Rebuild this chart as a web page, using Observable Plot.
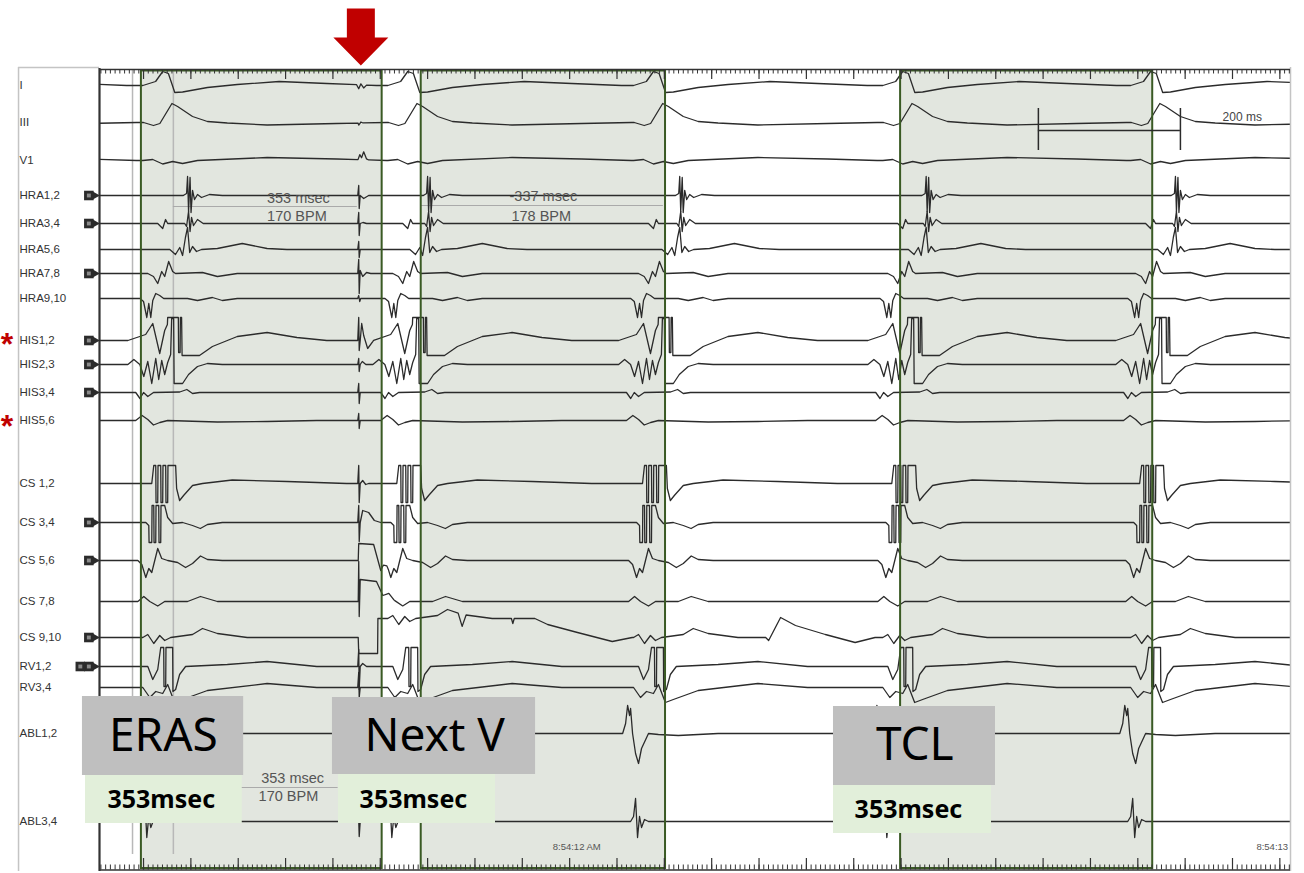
<!DOCTYPE html>
<html><head><meta charset="utf-8">
<script src="https://cdn.jsdelivr.net/npm/d3@7"></script>
<script src="https://cdn.jsdelivr.net/npm/@observablehq/plot@0.6"></script>
<style>html,body{margin:0;padding:0;background:#fff;overflow:hidden}</style>
</head><body><div id="chart"></div>
<script>
// ---------- data ----------
const channels = ["I","III","V1","HRA1,2","HRA3,4","HRA5,6","HRA7,8","HRA9,10","HIS1,2","HIS2,3","HIS3,4","HIS5,6","CS 1,2","CS 3,4","CS 5,6","CS 7,8","CS 9,10","RV1,2","RV3,4","ABL1,2","ABL3,4"];
// display offset of each channel baseline (mm from top of the page)
const offsets = [8.5,12.2,16.0,19.5,22.3,24.9,27.3,29.8,34.0,36.4,39.2,42.0,48.3,52.2,56.0,60.1,63.7,66.6,68.7,73.3,82.1];
const connectors = [0,0,0,1,1,0,1,0,1,1,1,0,0,1,1,0,1,2,0,0,0];

// event times (ms)
const vTimes = [-256, 96, 441, 787, 1138, 1487];
const aTimes = [-228, 124, 462, 817, 1164, 1515];
const stimTime = 365;
const cs910Extra = [938];

// electrogram templates: [ms from event, deflection in mm (up +)]
const vTemplates = [
  [[-35,0],[-17,0.4],[-7,1.4],[1,1.2],[10,-0.7],[21,-0.65],[56,-0.2],[98,0.1],[157,0.4],[224,0.2],[294,0]],
  [[-34,0],[-20,-0.3],[-11,-0.1],[6,1.9],[14,1.6],[35,0.6],[56,0.1],[84,-0.05],[140,-0.25],[238,-0.1],[308,0]],
  [[-35,0],[-21,0.1],[-7,-0.35],[7,-0.1],[21,-0.3],[42,0],[140,0.3],[238,0.15],[308,0]],
  null,
  [[-14,0],[-7,-0.5],[-3,0.4],[0,0]],
  null,
  [[-28,0],[-20,-0.3],[-14,-1.0],[-8.4,0.2],[-4.2,-0.3],[1.4,1.2],[7,0.2],[11,0],[49,0.1],[70,-0.3],[98,0]],
  [[-39,0],[-34,-0.3],[-29.4,-1.9],[-26.6,-0.5],[-23.8,-1.9],[-21,-0.2],[-16.8,0.5],[-11.2,0.3],[-5.6,0],[28,0],[42,-0.2],[63,0.1],[77,-0.2],[98,0]],
  [[-56,0],[-31,0.6],[-21,1.7],[-11.2,-1.3],[-4.2,1.0],[-0.4,1.6],[0,2.3],[15,2.3],[15.4,-1.2],[17.5,-1.2],[17.9,2.3],[19.6,2.3],[20.3,-1.5],[44.8,-1.5],[63,-0.6],[98,0.4],[140,0.8],[182,0.3],[224,0]],
  [[-56,0],[-47.6,0.5],[-39.2,0],[-33.6,-1.2],[-28,0.3],[-22.4,-1.9],[-16.8,0.6],[-12.6,-1.5],[-8.4,0.4],[-4.2,-1.0],[0,0.2],[4.2,1.0],[5.6,4.6],[8.4,4.6],[9.1,-1.9],[21,-1.9],[29.4,-1.0],[42,-0.2],[56,0.1],[77,0]],
  [[-45,0],[-39,-0.6],[-34,0],[-28,-0.4],[-20,0],[17,0.05],[27,0.3],[35,-0.1],[45,0]],
  [[-45,0],[-36,0.5],[-28,0.1],[-20,-0.45],[-11,-0.2],[0,0],[70,-0.15],[140,-0.1],[210,0]],
  [[-22.4,0],[-19.6,1.8],[-16.8,1.8],[-16.4,-1.9],[-14,-1.9],[-13.6,1.8],[-9.8,1.8],[-9.4,-1.9],[-7,-1.9],[-6.6,1.8],[-2.8,1.8],[-2.4,-1.9],[0,-1.9],[0.4,1.8],[11.2,1.8],[12.6,-0.5],[16.8,-1.7],[22.4,-1.2],[35,-0.2],[49,0],[91,0.35],[168,0.2],[252,0]],
  [[-30.8,0],[-26.6,-0.3],[-26.2,-2.0],[-22.4,-2.0],[-22,1.7],[-19.6,1.7],[-19.2,-2.0],[-16.8,-2.0],[-16.4,1.7],[-12.6,1.7],[-12.2,-2.0],[-9.8,-2.0],[-9.4,1.7],[-4.2,1.7],[0,0.5],[7,-0.1],[21,0],[35,-0.3],[46,-0.6],[56,-0.2],[77,0]],
  [[-42,0],[-36.4,-0.4],[-30.8,-1.7],[-26.6,-0.8],[-22.4,-1.2],[-14,1.2],[-8.4,0.2],[0,0],[14,-0.2],[25.2,-0.7],[35,-0.3],[46.2,0.45],[56,0.1],[77,0]],
  [[-42,0],[-33.6,0.5],[-25.2,0],[-14,-0.45],[-4.2,0],[28,0],[46.2,0.5],[70,0]],
  [[-35,0],[-28,0.3],[-19.6,-0.6],[-11.2,0.2],[-4.2,-0.3],[4.2,0],[35,0.3],[49,0.9],[70,0.4],[112,0]],
  [[-28,0],[-21,-1.3],[-14,-0.3],[-9.8,1.9],[-5.6,1.9],[-5.2,-2.0],[-2.8,-2.0],[-2.4,1.9],[7,1.9],[7.4,-2.5],[11.2,-2.3],[16.8,-0.8],[25.2,0],[84,0.2],[140,0.5],[210,0]],
  [[-35,0],[-25.2,-1.0],[-16.8,-0.4],[-7,-0.6],[0,0.3],[9.8,-1.5],[21,-1.2],[56,-0.3],[140,0.4],[210,0]],
  [[-50.4,0],[-46.2,1.0],[-43.4,2.8],[-40.6,1.8],[-39.2,2.5],[-36.4,0],[-32.2,-2.0],[-28,-3.0],[-23.8,-1.5],[-14,0],[0,-0.1],[28,-0.2],[84,0]],
  [[-39.2,0],[-35,0.5],[-32.2,2.3],[-29.4,-1.6],[-26.6,0.5],[-23.8,-0.6],[-19.6,0.2],[-14,0]]
];
const aTemplates = [
  null,null,null,
  [[-6,0],[-1.4,0.2],[0,1.9],[1.4,-1.6],[3.5,1.8],[4.9,-1.7],[7,0.5],[9.8,-0.4],[14,0.1],[19.6,-0.2],[30.8,0.1],[49,0]],
  [[-4,0],[-1.4,-0.3],[1.4,1.2],[3.5,-0.8],[5.6,0.6],[8.4,-0.2],[14,0.4],[22,0],[35,0]],
  [[-25,0],[-17,-0.5],[-11,0.2],[-7,-0.6],[-3,1.2],[0,2.2],[3,-0.3],[7,0.3],[12.6,-0.2],[19.6,0],[42,0.1],[77,0.6],[112,0.1],[140,0]],
  null,null,null,null,null,null,null,null,null,null,null,null,null,null,null
];
const sTemplates = [
  [[-3,0],[0,-0.4],[3,0.1],[7,-0.3],[11,0]],
  [[-1,0],[0,-0.2],[3,0.1],[6,0]],
  [[-1,0],[1.5,0.5],[4,0.2],[7,0.8],[11,0.1],[14,0]],
  [[-1.4,0],[0,1.0],[0.7,-1.3],[2.1,0],[7,-0.3],[14,0]],
  [[-1.4,0],[0,1.1],[0.7,-1.2],[2.1,0],[6,0.1],[11,0]],
  [[-1.4,0],[0,0.8],[0.7,-0.8],[2.1,0],[6,0]],
  [[-1.4,0],[0,1.4],[0.7,-2.0],[2.1,0.3],[5.6,-0.3],[11,0.1],[17,0]],
  [[-1.4,0],[0,0.3],[1.4,-0.3],[2.8,0]],
  [[-1.4,0],[0,2.3],[0.7,-1.0],[2.1,0],[4.2,1.7],[7,0.5],[12.6,-0.8],[21,0]],
  [[-1.4,0],[0,0.6],[0.7,-0.7],[2.1,0],[5,0.3],[10,0]],
  [[-1.4,0],[0,0.9],[0.7,-1.1],[2.1,0],[4,0]],
  [[-1.4,0],[0,0.7],[0.7,-0.8],[2.1,0],[4,0]],
  [[-1.4,0],[0,1.8],[0.7,-1.9],[2.1,0],[5.6,0.3],[9.8,-0.1],[14,0]],
  [[-1.4,0],[0,1.7],[0.7,-1.9],[2.1,0],[5.6,1.2],[14,1.0],[22,0.2],[31,0]],
  [[-0.7,0],[0,1.7],[21,1.6],[31,-1.0],[35,-0.4],[42,0]],
  [[-0.7,0],[0,4.0],[0.7,-1.5],[2.1,2.2],[25,2.0],[34,0.6],[49,0.1],[63,0]],
  [[-0.7,0],[0,-1.6],[26.6,-1.6],[27,1.9],[140,1.9],[145.6,0.7],[151.2,1.9],[215,1.9],[217,1.4],[219,1.9],[248,1.9],[266,1.3],[308,0.5],[357,-0.4],[385,0]],
  [[-1.4,0],[0,1.7],[0.7,-2.3],[2.1,0],[5.6,0.3],[11,0]],
  [[-1.4,0],[0,1.5],[0.7,-1.0],[2.1,0],[4.2,0]],
  null,
  [[-1.4,0],[0,0.2],[0.7,-1.5],[2.1,0],[4,0]]
];
const cs910ExtraTemplate = [[0,0],[4.2,-0.3],[21,2.0],[42,1.2],[84,0.3],[126,-0.5],[154,0]];

// highlighted intervals (ms)
const windowStarts = [59, 453, 1128];
const windowEnds = [398, 797, 1483];
const cursorTimes = [46.5, 104];

// annotations
const measureTexts = ["353 msec", "170 BPM", "-337 msec", "178 BPM", "353 msec", "170 BPM"];
const calloutNames = ["ERAS", "Next V", "TCL"];
const calloutValues = ["353msec", "353msec", "353msec"];
const timeStamps = ["8:54:12 AM", "8:54:13"];
const scaleLabel = "200 ms";

// ---------- build ----------
const tMax = 1677;
function interp(tpl, dt) {
  if (!tpl || dt <= tpl[0][0] || dt >= tpl[tpl.length - 1][0]) return 0;
  for (let k = 1; k < tpl.length; k++) {
    if (dt <= tpl[k][0]) {
      const [t0, a0] = tpl[k - 1], [t1, a1] = tpl[k];
      return a0 + (a1 - a0) * (dt - t0) / (t1 - t0);
    }
  }
  return 0;
}
function eventsFor(i) {
  const ev = [];
  if (vTemplates[i]) vTimes.forEach(t => ev.push([t, vTemplates[i]]));
  if (aTemplates[i]) aTimes.forEach(t => ev.push([t, aTemplates[i]]));
  if (sTemplates[i]) ev.push([stimTime, sTemplates[i]]);
  if (channels[i] === "CS 9,10") cs910Extra.forEach(t => ev.push([t, cs910ExtraTemplate]));
  return ev;
}
function buildTrace(i) {
  const ev = eventsFor(i);
  const ts = new Set([0, tMax]);
  ev.forEach(([t0, tpl]) => tpl.forEach(([dt]) => {
    const t = t0 + dt;
    if (t > 0 && t < tMax) ts.add(Math.round(t * 100) / 100);
  }));
  return [...ts].sort((a, b) => a - b).map(t => ({
    ch: channels[i], t, y: offsets[i] - d3.sum(ev, ([t0, tpl]) => interp(tpl, t - t0))
  }));
}
const traceData = channels.flatMap((c, i) => buildTrace(i));

const windows = windowStarts.map((s, i) => ({x1: s, x2: windowEnds[i]}));
const rulerStep = 200 / 3;
const majors = d3.range(62, tMax, rulerStep);
const minors = d3.range(62 - rulerStep, tMax, rulerStep / 10).filter(t => t >= 0);
const iconRows = channels.map((c, i) => ({y: offsets[i], n: connectors[i]})).filter(d => d.n > 0);
const labelRows = channels.map((c, i) => ({name: c, y: offsets[i]}));

const ac = stimTime + 3;
const arrow = [[ac-19.7,0.8],[ac+19.7,0.8],[ac+19.7,3.7],[ac+38.7,3.7],[ac,6.5],[ac-38.7,3.7],[ac-19.7,3.7],[ac-19.7,0.8]];

const gray = "#c4c4c4";
const ink = "#2b2b2b";

const callBoxes = [
  {gx1:-24, gx2:203, gy1:69.6, gy2:77.5, vx1:-19.7, vx2:201, vy1:77.2, vy2:82.3, tx:90, ty:73.6, vx:87, vy:79.9},
  {gx1:328, gx2:614, gy1:69.7, gy2:77.4, vx1:336.5, vx2:557.6, vy1:77.2, vy2:82.3, tx:472, ty:73.6, vx:442, vy:79.9},
  {gx1:1033.5, gx2:1261.6, gy1:70.6, gy2:78.5, vx1:1033.5, vx2:1256, vy1:78.1, vy2:83.3, tx:1148, ty:74.5, vx:1139, vy:80.9}
].map((b, i) => ({...b, name: calloutNames[i], value: calloutValues[i]}));

const measPos = [
  {x: 280, y: 19.8, a: "middle"}, {x: 278, y: 21.6, a: "middle"},
  {x: 625, y: 19.6, a: "middle"}, {x: 622, y: 21.6, a: "middle"},
  {x: 272, y: 77.8, a: "end"}, {x: 266, y: 79.6, a: "end"}
];
const measRows = measPos.map((p, i) => ({...p, text: measureTexts[i]}));

const chart = Plot.plot({
  width: 1304, height: 873,
  marginLeft: 99, marginRight: 14, marginTop: 0, marginBottom: 0,
  x: {domain: [0, tMax], axis: null},
  y: {domain: [87.3, 0], axis: null},
  style: {background: "#fff", fontFamily: "'Liberation Sans', Arial, sans-serif"},
  marks: [
    Plot.rect(windows, {x1: "x1", x2: "x2", y1: 7.05, y2: 86.8, fill: "#e2e6df"}),
    Plot.ruleX(cursorTimes, {y1: 7.0, y2: 85.4, stroke: "#b8b8b8", strokeWidth: 1.5}),
    Plot.ruleY([{x1: 104, x2: 363, y: 20.6}, {x1: 453, x2: 794, y: 20.5}, {x1: 104, x2: 336, y: 78.7}],
      {x1: "x1", x2: "x2", y: "y", stroke: "#aaaaaa", strokeWidth: 1.2}),
    Plot.line(traceData, {x: "t", y: "y", z: "ch", stroke: ink, strokeWidth: 1.3, clip: true}),
    Plot.rect(windows, {x1: "x1", x2: "x2", y1: 7.05, y2: 86.8, fill: "none", stroke: "#3a5a24", strokeWidth: 2}),
    // frame
    Plot.ruleX([-114], {y1: 6.7, y2: 87.1, stroke: gray, strokeWidth: 1.5}),
    Plot.ruleY([6.7], {x1: -114, x2: 0, stroke: gray, strokeWidth: 1.5}),
    Plot.ruleX([tMax], {y1: 6.7, y2: 87.1, stroke: gray, strokeWidth: 1.5}),
    Plot.ruleX([0], {y1: 6.8, y2: 87.1, stroke: "#333", strokeWidth: 2.2}),
    Plot.ruleY([6.9], {x1: 0, x2: tMax, stroke: "#333", strokeWidth: 1.5}),
    Plot.ruleY([86.95], {x1: 0, x2: tMax, stroke: "#333", strokeWidth: 1.5}),
    Plot.ruleX(minors, {y1: 6.9, y2: 7.35, stroke: "#333", strokeWidth: 1}),
    Plot.ruleX(majors, {y1: 6.9, y2: 7.9, stroke: "#333", strokeWidth: 1.2}),
    Plot.ruleX(minors, {y1: 86.45, y2: 86.95, stroke: "#333", strokeWidth: 1}),
    Plot.ruleX(majors, {y1: 85.8, y2: 86.95, stroke: "#333", strokeWidth: 1.2}),
    // channel labels and connector icons
    Plot.text(labelRows, {x: -114, y: "y", text: "name", textAnchor: "start", dx: 1, fontSize: 11.5, fill: "#333"}),
    Plot.dot(iconRows, {x: -15, y: "y", symbol: "square", r: 5.4, fill: ink}),
    Plot.dot(iconRows.filter(d => d.n > 1), {x: -27, y: "y", symbol: "square", r: 5.4, fill: ink}),
    Plot.dot(iconRows, {x: -15, y: "y", symbol: "square", r: 2.2, fill: "#8a8a8a"}),
    Plot.dot(iconRows.filter(d => d.n > 1), {x: -27, y: "y", symbol: "square", r: 2.2, fill: "#8a8a8a"}),
    Plot.dot(iconRows, {x: -6.5, y: "y", symbol: "triangle", r: 3.2, rotate: 90, fill: ink}),
    // measurement labels
    Plot.text(measRows, {x: "x", y: "y", text: "text", textAnchor: d => d.a, fontSize: 14.5, fill: "#555"}),
    // scale bar
    Plot.ruleY([13.0], {x1: 1322, x2: 1522, stroke: ink, strokeWidth: 1.5}),
    Plot.ruleX([1322, 1522], {y1: 10.8, y2: 15.0, stroke: ink, strokeWidth: 1.5}),
    Plot.text([scaleLabel], {x: 1609, y: 11.7, text: d => d, fontSize: 12, fill: "#444"}),
    // time stamps
    Plot.text([timeStamps[0]], {x: 672, y: 84.6, text: d => d, fontSize: 9.5, fill: "#555"}),
    Plot.text([timeStamps[1]], {x: 1629, y: 84.6, text: d => d, fontSize: 9.5, fill: "#555", textAnchor: "start"}),
    // callouts
    Plot.rect(callBoxes, {x1: "vx1", x2: "vx2", y1: "vy1", y2: "vy2", fill: "#e2efda"}),
    Plot.rect(callBoxes, {x1: "gx1", x2: "gx2", y1: "gy1", y2: "gy2", fill: "#bfbfbf"}),
    Plot.text(callBoxes, {x: "tx", y: "ty", text: "name", fontSize: 46, fill: "#000", fontFamily: "'Noto Sans', 'Open Sans', sans-serif"}),
    Plot.text(callBoxes, {x: "vx", y: "vy", text: "value", fontSize: 25, fontWeight: "bold", fill: "#000", fontFamily: "'Noto Sans', 'Open Sans', sans-serif"}),
    // red arrow and asterisks
    Plot.line(arrow, {x: d => d[0], y: d => d[1], fill: "#c00000", stroke: "none"}),
    Plot.text([34.4, 42.6], {x: -139, y: d => d, text: () => "*", textAnchor: "start", fontSize: 32, fontWeight: "bold", fill: "#c00000"})
  ]
});
document.getElementById("chart").appendChild(chart);
</script></body></html>
